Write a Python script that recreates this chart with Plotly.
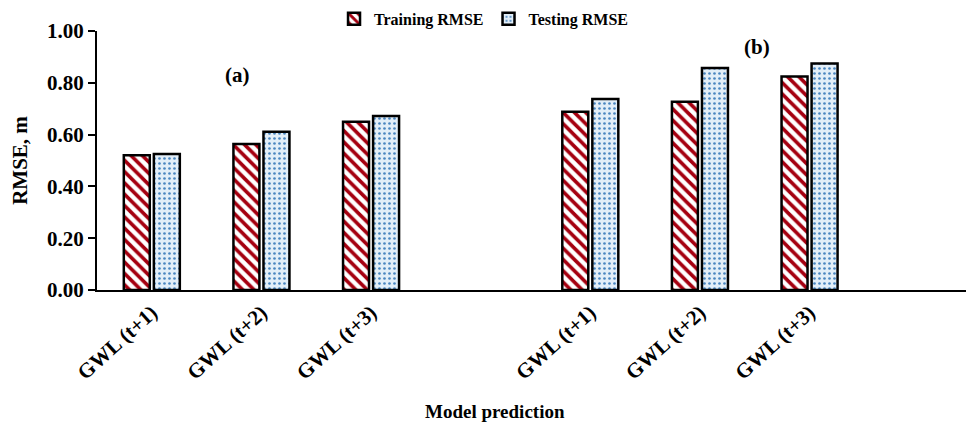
import plotly.graph_objects as go

categories = ["GWL (t+1)", "GWL (t+2)", "GWL (t+3)", "",
              "GWL (t+1)", "GWL (t+2)", "GWL (t+3)", ""]
training_rmse = [0.520, 0.564, 0.650, None, 0.688, 0.727, 0.824, None]
testing_rmse = [0.525, 0.611, 0.672, None, 0.737, 0.857, 0.875, None]
y_ticks = [0.0, 0.2, 0.4, 0.6, 0.8, 1.0]
panel_labels = ["(a)", "(b)"]
x_title = "Model prediction"
y_title = "RMSE, m"

xpos = list(range(len(categories)))
FONT = "Liberation Serif"

fig = go.Figure()
fig.add_trace(go.Bar(
    x=xpos, y=training_rmse, name="<b>Training RMSE</b>",
    marker=dict(color="white", line=dict(color="black", width=2.5),
                pattern=dict(shape="\\", fgcolor="#A50010", bgcolor="white",
                             size=8, solidity=0.45, fillmode="replace")),
))
fig.add_trace(go.Bar(
    x=xpos, y=testing_rmse, name="<b>Testing RMSE</b>",
    marker=dict(color="#DDEBF7", line=dict(color="black", width=2.5),
                pattern=dict(shape=".", fgcolor="#4A86C0", bgcolor="#E2EEF8",
                             size=5, solidity=0.22, fillmode="replace")),
))

fig.add_annotation(x=0.78, y=0.83, xref="x", yref="y", text="<b>" + panel_labels[0] + "</b>",
                   showarrow=False, font=dict(family=FONT, size=21, color="black"))
fig.add_annotation(x=5.52, y=0.94, xref="x", yref="y", text="<b>" + panel_labels[1] + "</b>",
                   showarrow=False, font=dict(family=FONT, size=21, color="black"))
fig.add_annotation(x=0.454, y=-0.471, xref="paper", yref="paper", text="<b>" + x_title + "</b>",
                   showarrow=False, yanchor="middle",
                   font=dict(family=FONT, size=19, color="black"))

fig.update_layout(
    width=966, height=419,
    margin=dict(l=89, r=0, t=23, b=137, autoexpand=False),
    paper_bgcolor="white", plot_bgcolor="white",
    barmode="group", bargap=0.452, bargroupgap=0.135,
    font=dict(family=FONT, color="black"),
    showlegend=True,
    legend=dict(orientation="h", x=0.3375, y=0.974, xref="container", yref="container",
                xanchor="left", yanchor="middle",
                font=dict(family=FONT, size=16, color="black"),
                itemwidth=30, bgcolor="rgba(0,0,0,0)"),
    xaxis=dict(
        range=[-0.5, len(categories) - 0.5], automargin=False,
        tickmode="array", tickvals=xpos,
        ticktext=["<b>" + c + "</b>" if c else "" for c in categories],
        tickangle=-42, tickfont=dict(family=FONT, size=21, color="black"),
        showline=True, linecolor="black", linewidth=2,
        ticks="", showgrid=False, zeroline=False,
    ),
    yaxis=dict(
        range=[0, 1.0], automargin=False,
        tickmode="array", tickvals=y_ticks,
        ticktext=["<b>%.2f</b>" % v for v in y_ticks],
        tickfont=dict(family=FONT, size=21, color="black"),
        showline=True, linecolor="black", linewidth=2,
        ticks="outside", ticklen=7, tickwidth=2, tickcolor="black",
        showgrid=False, zeroline=False,
        title=dict(text="<b>" + y_title + "</b>", font=dict(family=FONT, size=21), standoff=14),
    ),
)

fig.write_html("out.html")
